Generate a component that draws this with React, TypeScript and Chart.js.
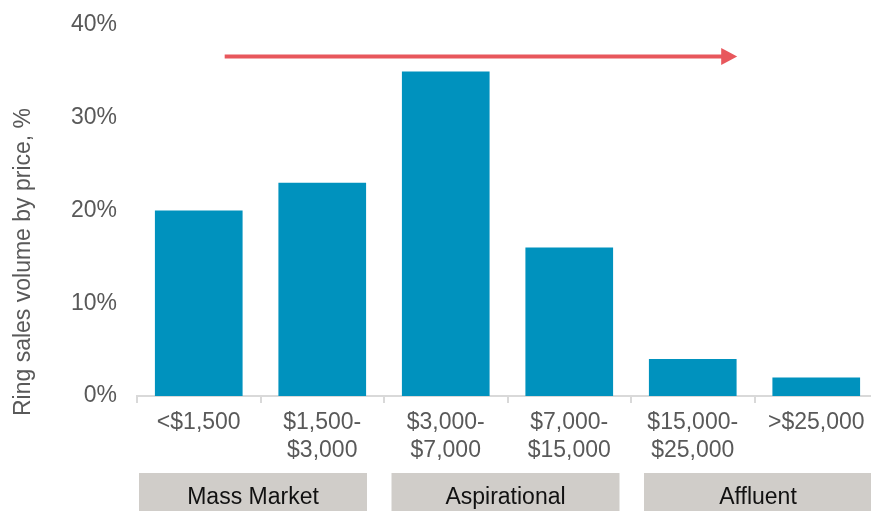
import React, { useEffect, useRef } from "react";
import { Chart, registerables } from "chart.js";

Chart.register(...registerables);

const categories: (string | string[])[] = [
  "<$1,500",
  ["$1,500-", "$3,000"],
  ["$3,000-", "$7,000"],
  ["$7,000-", "$15,000"],
  ["$15,000-", "$25,000"],
  ">$25,000",
];
const values = [20, 23, 35, 16, 4, 2];
const yMax = 40;
const yStep = 10;
const yTitle = "Ring sales volume by price, %";
const groupNames = ["Mass Market", "Aspirational", "Affluent"];
const arrowFromCategory = 0;
const arrowToCategory = 4;
const arrowLevel = 36.6;

const FONT = "'Liberation Sans', Arial, sans-serif";
const TEXT = "#595959";
const BAR = "#0092be";
const AXIS = "#d9d9d9";
const ARROW = "#e8575c";
const BOX = "#d0cdc9";

const decorPlugin = {
  id: "decor",
  afterDraw(chart: any) {
    const { ctx, chartArea, scales } = chart;
    const x = scales.x;
    const y = scales.y;
    const catW = x.getPixelForValue(1) - x.getPixelForValue(0);

    // arrow
    const ay = y.getPixelForValue(arrowLevel);
    const ax0 = x.getPixelForValue(arrowFromCategory) + 0.21 * catW;
    const ax1 = x.getPixelForValue(arrowToCategory) + 0.36 * catW;
    ctx.save();
    ctx.strokeStyle = ARROW;
    ctx.fillStyle = ARROW;
    ctx.lineWidth = 4;
    ctx.beginPath();
    ctx.moveTo(ax0, ay);
    ctx.lineTo(ax1 - 14, ay);
    ctx.stroke();
    ctx.beginPath();
    ctx.moveTo(ax1, ay);
    ctx.lineTo(ax1 - 16, ay - 8.5);
    ctx.lineTo(ax1 - 16, ay + 8.5);
    ctx.closePath();
    ctx.fill();
    ctx.restore();

    // group boxes
    const boxTop = chartArea.bottom + 77;
    const spacing = 2 * catW + 5.5;
    const w = 2 * catW - 19;
    ctx.save();
    groupNames.forEach((name, i) => {
      const left = chartArea.left + 2 + i * spacing;
      ctx.fillStyle = BOX;
      ctx.fillRect(left, boxTop, w, chart.height - boxTop + 10);
      ctx.fillStyle = "#111111";
      ctx.font = `23px ${FONT}`;
      ctx.textAlign = "center";
      ctx.textBaseline = "middle";
      ctx.fillText(name, left + w / 2, boxTop + 25);
    });
    ctx.restore();

    // y title
    ctx.save();
    ctx.translate(24, 262);
    ctx.rotate(-Math.PI / 2);
    ctx.fillStyle = TEXT;
    ctx.font = `23px ${FONT}`;
    ctx.textAlign = "center";
    ctx.textBaseline = "middle";
    ctx.fillText(yTitle, 0, 0);
    ctx.restore();
  },
};

export default function App() {
  const ref = useRef<HTMLCanvasElement>(null);
  useEffect(() => {
    document.body.style.margin = "0";
    document.body.style.overflow = "hidden";
    const chart = new Chart(ref.current!, {
      type: "bar",
      data: {
        labels: categories as any,
        datasets: [
          {
            data: values,
            backgroundColor: BAR,
            borderWidth: 0,
            barPercentage: 0.71,
            categoryPercentage: 1,
          },
        ],
      },
      options: {
        responsive: false,
        animation: false,
        layout: { padding: { top: 25, right: 2, left: 0, bottom: 0 } },
        plugins: {
          legend: { display: false },
          tooltip: { enabled: false },
        },
        scales: {
          x: {
            afterFit: (s: any) => {
              s.height = 115;
              s.paddingLeft = 0;
              s.paddingRight = 0;
            },
            grid: {
              display: true,
              drawOnChartArea: false,
              offset: true,
              color: AXIS,
              lineWidth: 2,
              tickLength: 7,
            },
            border: { color: AXIS, width: 2 },
            ticks: {
              color: TEXT,
              padding: 6,
              maxRotation: 0,
              autoSkip: false,
              font: { family: FONT, size: 23, lineHeight: 1.2 },
            },
          },
          y: {
            min: 0,
            max: yMax,
            afterFit: (s: any) => {
              s.width = 137;
              s.paddingTop = 0;
              s.paddingBottom = 0;
            },
            grid: { display: false, drawTicks: false },
            border: { display: false },
            ticks: {
              stepSize: yStep,
              padding: 20,
              color: TEXT,
              font: { family: FONT, size: 23 },
              callback: (v: any) => `${v}%`,
            },
          },
        },
      },
      plugins: [decorPlugin],
    });
    return () => chart.destroy();
  }, []);
  return (
    <div style={{ position: "fixed", left: 0, top: 0, width: 871, height: 511, overflow: "hidden", background: "#fff" }}>
      <canvas ref={ref} width={880} height={511} style={{ display: "block" }} />
    </div>
  );
}
